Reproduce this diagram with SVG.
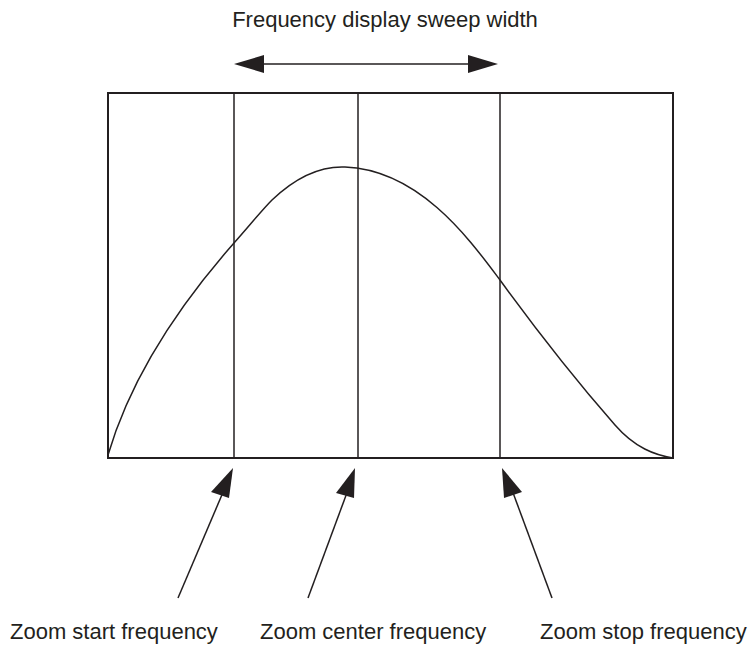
<svg xmlns="http://www.w3.org/2000/svg" width="751" height="646" viewBox="0 0 751 646">
<style>
  .ln { fill: none; stroke: #231f20; stroke-width: 1.5; }
  .box { fill: none; stroke: #231f20; stroke-width: 2; }
  .lbl { font-family: "Liberation Sans", Arial, sans-serif; font-size: 22px; fill: #231f20; }
  .ah { fill: #231f20; }
</style>
<rect width="751" height="646" fill="#ffffff"/>
<g id="plot">
  <rect class="box" x="108" y="93" width="565" height="365"/>
  <line class="ln" x1="234" y1="93" x2="234" y2="458"/>
  <line class="ln" x1="358" y1="93" x2="358" y2="458"/>
  <line class="ln" x1="500" y1="93" x2="500" y2="458"/>
  <path class="ln" d="M108,455 C130,380 175,310 234,243 C250,225 262,210 272,200 C295,178 320,166 345,167 C420,170 470,240 500,280 C540,335 580,385 615,425 C635,448 655,455 673,458"/>
</g>
<g id="sweep">
  <text class="lbl" x="385" y="27" text-anchor="middle">Frequency display sweep width</text>
  <line class="ln" x1="260" y1="64" x2="472" y2="64"/>
  <polygon class="ah" points="234,64 264,55 264,73"/>
  <polygon class="ah" points="498,64 468,55 468,73"/>
</g>
<g id="connectors">
  <line class="ln" x1="178" y1="598" x2="224" y2="490"/>
  <polygon class="ah" points="233,468 211,492 229,498"/>
  <line class="ln" x1="308" y1="598" x2="348" y2="490"/>
  <polygon class="ah" points="355,468 336,493 354,498"/>
  <line class="ln" x1="552" y1="598" x2="512" y2="490"/>
  <polygon class="ah" points="502,468 504,498 522,492"/>
</g>
<g id="label-start"><text class="lbl" x="10" y="639">Zoom start frequency</text></g>
<g id="label-center"><text class="lbl" x="260" y="639">Zoom center frequency</text></g>
<g id="label-stop"><text class="lbl" x="540" y="639">Zoom stop frequency</text></g>
</svg>
